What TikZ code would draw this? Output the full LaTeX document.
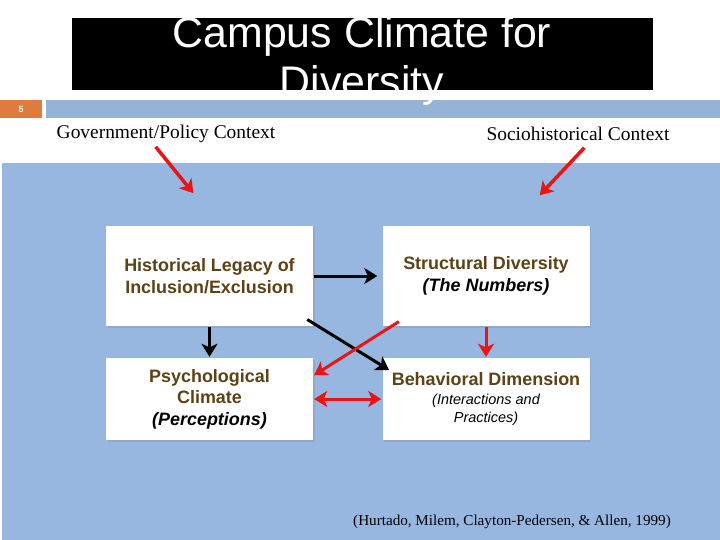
\documentclass[tikz,border=0pt]{standalone}
\usepackage{fontspec}
\setmainfont{Liberation Serif}
\setsansfont{Liberation Sans}
\usetikzlibrary{calc}
\usetikzlibrary{arrows.meta}
\usetikzlibrary{shadows}
\definecolor{bandblue}{RGB}{149,179,215}
\definecolor{areablue}{RGB}{151,182,224}
\definecolor{slideorange}{RGB}{224,123,62}
\definecolor{labelbrown}{RGB}{92,66,20}
\definecolor{arrowred}{RGB}{235,20,20}
\newcommand{\subnote}[1]{{\color{black}\mdseries\itshape\fontsize{14.5}{18}\selectfont #1}}

\begin{document}
\begin{tikzpicture}[x=1bp, y=-1bp, factor/.style={rectangle, fill=white, inner sep=0pt, align=center, minimum width=207bp, text=labelbrown, font=\sffamily\bfseries\fontsize{18}{21.5}\selectfont, drop shadow={opacity=0.25, shadow xshift=1.5bp, shadow yshift=-1.5bp}}]
    \tikzset{link/.style={line width=3bp, >={Stealth[length=13bp, width=16bp, inset=3.5bp]}, ->, shorten >=1bp, shorten <=1bp}}
    \tikzset{context/.style={font=\fontsize{19.5}{22}\selectfont, inner sep=0pt}}
    \useasboundingbox[fill=white] (0,0) rectangle (720,540);

    % slide header
    \fill[black] (72,18) rectangle (653,90);
    \fill[slideorange] (0,100) rectangle (42,118);
    \fill[bandblue] (46,100) rectangle (720,118);
    \node[text=white, font=\sffamily\bfseries\fontsize{9}{10}\selectfont] (pagenum) at (21,109) {5};
    \node[text=white, align=center, font=\sffamily\fontsize{43}{50}\selectfont, inner sep=0pt, anchor=base] (title) at (362,97) {Campus Climate for\\Diversity};

    % contexts
    \node[context] (govctx) at (166,134) {Government/Policy Context};
    \node[context] (socctx) at (578,134) {Sociohistorical Context};

    \fill[areablue] (2,163) rectangle (720,540);

    % the four dimensions
    \node[factor, minimum height=100bp] (legacy) at (209.5,276) {Historical Legacy of\\Inclusion/Exclusion};
    \node[factor, minimum height=100bp] (structural) at (486,276) {Structural Diversity\\{\color{black}\itshape(The Numbers)}};
    \node[factor, minimum height=82bp] (psych) at (209.5,399) {Psychological\\Climate\\{\color{black}\itshape(Perceptions)}};
    \node[factor, minimum height=82bp] (behave) at (486,399) {Behavioral Dimension\\[-2bp]\subnote{(Interactions and}\\[-3bp]\subnote{Practices)}};

    \coordinate (govend) at (194,194);
    \coordinate (socend) at (539,196);

    \draw[link, arrowred, line width=3.5bp] ($(govctx.south)+(-11,3)$) -- (govend);
    \draw[link, arrowred, line width=3.5bp] ($(socctx.south)+(7,6)$) -- (socend);

    \draw[link, shorten >=5bp] (legacy.east) -- (structural.west);
    \draw[link] (legacy.south) -- (psych.north);
    \draw[link, shorten <=-7bp, shorten >=-8bp] ($(legacy.south east)+(0,-3)$) -- ($(behave.north west)+(0,8)$);
    \draw[link, arrowred] (structural.south) -- (behave.north);
    \draw[link, arrowred, shorten <=-3bp] ($(structural.south west)+(14,-3)$) -- ($(psych.north east)+(0,18)$);
    \draw[link, arrowred, <->] (psych.east) -- (behave.west);

    \node[font=\fontsize{15.2}{17}\selectfont, inner sep=0pt] (cite) at (512,522) {(Hurtado, Milem, Clayton-Pedersen, \& Allen, 1999)};
\end{tikzpicture}
\end{document}
